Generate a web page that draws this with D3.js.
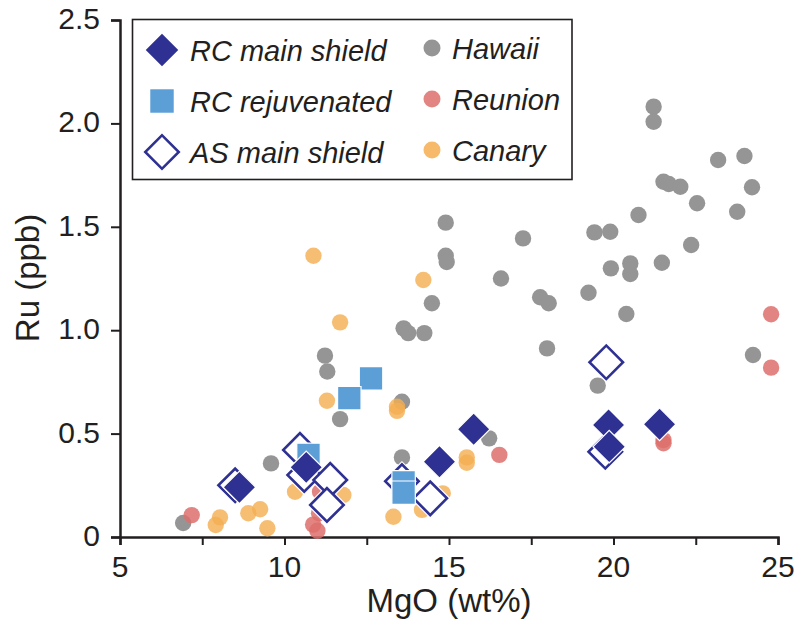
<!DOCTYPE html>
<html>
<head>
<meta charset="utf-8">
<script src="https://cdn.jsdelivr.net/npm/d3@7"></script>
<style>
  body { margin: 0; background: #fff; }
  svg text { font-family: "Liberation Sans", Arial, Helvetica, sans-serif; fill: #231f20; }
</style>
</head>
<body>
<div id="chart"></div>
<script>
var width = 798, height = 625;

// [MgO wt%, Ru ppb]
var hawaii = [[6.92,0.068],[9.59,0.356],[11.23,0.877],[11.3,0.80],[11.69,0.57],[13.57,0.654],
  [13.62,1.009],[13.76,0.986],[14.25,0.986],[14.9,1.52],[14.9,1.36],[14.93,1.33],[14.48,1.13],
  [13.57,0.385],[16.22,0.477],[16.58,1.25],[17.25,1.444],[17.77,1.159],[18.03,1.13],[17.98,0.912],
  [19.24,1.181],[19.42,1.473],[19.9,1.476],[19.92,1.299],[20.51,1.323],[20.51,1.272],[20.39,1.078],
  [19.52,0.732],[20.76,1.557],[21.22,2.081],[21.22,2.008],[21.47,1.326],[21.52,1.718],[21.68,1.707],
  [22.03,1.694],[22.36,1.412],[22.54,1.614],[23.18,1.823],[23.76,1.573],[23.98,1.842],[24.21,1.691],
  [24.24,0.88]];
var reunion = [[7.18,0.106],[10.87,0.06],[11.0,0.03],[11.05,0.115],[11.2,0.14],[11.08,0.219],
  [16.53,0.397],[24.79,1.077],[24.79,0.819],[21.52,0.453],[21.52,0.469]];
var canary = [[10.88,1.36],[14.22,1.243],[11.69,1.038],[11.29,0.659],[13.42,0.63],[13.42,0.61],
  [10.32,0.219],[8.04,0.095],[7.91,0.058],[8.9,0.115],[9.26,0.134],[9.48,0.042],
  [15.54,0.385],[15.54,0.359],[13.31,0.098],[14.18,0.131],[14.81,0.211],[11.79,0.203]];
var rcMain = [[8.63,0.24],[10.66,0.337],[15.75,0.521],[14.71,0.364],[19.85,0.542],[19.87,0.437],[21.4,0.545]];
var rcRejuv = [[12.63,0.767],[11.97,0.671],[10.73,0.397],[13.62,0.264],[13.62,0.214]];
var asMain = [[8.5,0.25],[10.47,0.421],[10.6,0.3],[11.39,0.276],[11.29,0.155],[13.57,0.27],
  [14.43,0.187],[19.78,0.845],[19.75,0.412]];

var xTicks = [5, 7.5, 10, 12.5, 15, 17.5, 20, 22.5, 25];
var xLabels = [5, 10, 15, 20, 25];
var yTicks = [0, 0.5, 1.0, 1.5, 2.0, 2.5];

var ink = "#231f20", navy = "#2e3192", sky = "#5b9fd6";
var gray = "#959595", red = "#dd6f6b", orange = "#f4ae50";

var x = d3.scaleLinear().domain([5, 25]).range([120, 778]);
var y = d3.scaleLinear().domain([0, 2.5]).range([537, 20]);

var svg = d3.select("#chart").append("svg").attr("width", width).attr("height", height);

// axes
var xAxis = svg.append("g").attr("transform", "translate(0," + y(0) + ")")
  .call(d3.axisBottom(x).tickValues(xTicks).tickSize(8).tickFormat(""));
var yAxis = svg.append("g").attr("transform", "translate(" + x(5) + ",0)")
  .call(d3.axisLeft(y).tickValues(yTicks).tickSize(9).tickFormat(""));
[xAxis, yAxis].forEach(function(a) {
  a.select(".domain").attr("stroke", ink).attr("stroke-width", 2.5);
  a.selectAll(".tick line").attr("stroke", ink).attr("stroke-width", 2);
});

svg.selectAll(".xlab").data(xLabels).enter().append("text")
  .attr("x", function(d) { return x(d); })
  .attr("y", 577)
  .attr("text-anchor", "middle")
  .style("font-size", "30px")
  .text(function(d) { return d; });

svg.selectAll(".ylab").data(yTicks).enter().append("text")
  .attr("x", 100)
  .attr("y", function(d) { return y(d) + 9; })
  .attr("text-anchor", "end")
  .style("font-size", "30px")
  .text(function(d) { return d === 0 ? "0" : d3.format(".1f")(d); });

svg.append("text")
  .attr("x", 449).attr("y", 612)
  .attr("text-anchor", "middle")
  .style("font-size", "33px")
  .text("MgO (wt%)");

svg.append("text")
  .attr("transform", "translate(39,278) rotate(-90)")
  .attr("text-anchor", "middle")
  .style("font-size", "33px")
  .text("Ru (ppb)");

// points
function circles(data, fill, op) {
  svg.append("g").selectAll("circle").data(data).enter().append("circle")
    .attr("cx", function(d) { return x(d[0]); })
    .attr("cy", function(d) { return y(d[1]); })
    .attr("r", 8.2)
    .attr("fill", fill)
    .attr("fill-opacity", op);
}
circles(hawaii, gray, 1);
circles(reunion, red, 0.85);
circles(canary, orange, 0.8);

var diamond = d3.symbol().type(d3.symbolSquare).size(530);
var openDiamond = d3.symbol().type(d3.symbolSquare).size(560);
var square = d3.symbol().type(d3.symbolSquare).size(550);

function marks(data, path, rot, fill, stroke, sw) {
  svg.append("g").selectAll("path").data(data).enter().append("path")
    .attr("d", path)
    .attr("transform", function(d) { return "translate(" + x(d[0]) + "," + y(d[1]) + ") rotate(" + rot + ")"; })
    .attr("fill", fill)
    .attr("stroke", stroke)
    .attr("stroke-width", sw);
}
// white halo under open diamonds
marks(asMain, openDiamond, 45, "none", "#fff", 5);
marks(asMain, openDiamond, 45, "#fff", navy, 2.6);
marks(rcRejuv, square, 0, sky, "#fff", 1.2);
marks(rcMain, diamond, 45, navy, "#fff", 1.2);

// legend
var lg = svg.append("g");
lg.append("rect")
  .attr("x", 132.5).attr("y", 19.5).attr("width", 439.5).attr("height", 160)
  .attr("fill", "#fff").attr("stroke", ink).attr("stroke-width", 1.6);

var leftNames = ["RC main shield", "RC rejuvenated", "AS main shield"];
var rightNames = ["Hawaii", "Reunion", "Canary"];
var rightColors = [gray, red, orange];
var rowY = [50, 101, 152];

lg.append("path").attr("d", diamond).attr("transform", "translate(162," + rowY[0] + ") rotate(45)")
  .attr("fill", navy);
lg.append("path").attr("d", square).attr("transform", "translate(162," + rowY[1] + ")")
  .attr("fill", sky);
lg.append("path").attr("d", openDiamond).attr("transform", "translate(162," + rowY[2] + ") rotate(45)")
  .attr("fill", "#fff").attr("stroke", navy).attr("stroke-width", 2.6);

lg.selectAll(".ln").data(leftNames).enter().append("text")
  .attr("x", 190).attr("y", function(d, i) { return rowY[i] + 10.5; })
  .style("font-size", "29px").style("font-style", "italic")
  .text(function(d) { return d; });

lg.selectAll(".rc").data(rightNames).enter().append("circle")
  .attr("cx", 432).attr("cy", function(d, i) { return rowY[i] - 2; })
  .attr("r", 8.5)
  .attr("fill", function(d, i) { return rightColors[i]; })
  .attr("fill-opacity", function(d, i) { return i === 0 ? 1 : 0.85; });

lg.selectAll(".rn").data(rightNames).enter().append("text")
  .attr("x", 452).attr("y", function(d, i) { return rowY[i] + 8.5; })
  .style("font-size", "29px").style("font-style", "italic")
  .text(function(d) { return d; });
</script>
</body>
</html>
